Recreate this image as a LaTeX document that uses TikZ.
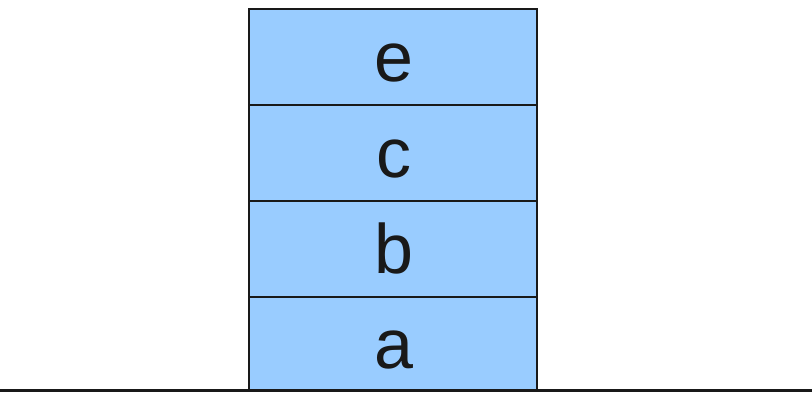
\documentclass[tikz,border=0pt]{standalone}
\usepackage{fontspec}
\setmainfont{Liberation Sans}
\definecolor{boxblue}{HTML}{99CCFF}
\begin{document}
\begin{tikzpicture}[x=1pt,y=-1pt,
  stackbox/.style={draw=black!90,line width=1.2pt,fill=boxblue},
  lbl/.style={anchor=base,font=\fontsize{70}{70}\selectfont,text=black!90,inner sep=0pt}]
\useasboundingbox (0,0) rectangle (812,392);
\path[stackbox] (249,297) rectangle (537,390);
\path[stackbox] (249,201) rectangle (537,297);
\path[stackbox] (249,105) rectangle (537,201);
\path[stackbox] (249,9) rectangle (537,105);
\node[lbl] (e) at (393.5,81.5) {e};
\node[lbl] (c) at (393.5,177.5) {c};
\node[lbl] (b) at (393.5,273.5) {b};
\node[lbl] (a) at (393.5,368.5) {a};
\coordinate (gl) at (0,390);
\coordinate (gr) at (812,390);
\draw[line width=3pt,black!90] (gl) -- (gr);
\end{tikzpicture}
\end{document}
